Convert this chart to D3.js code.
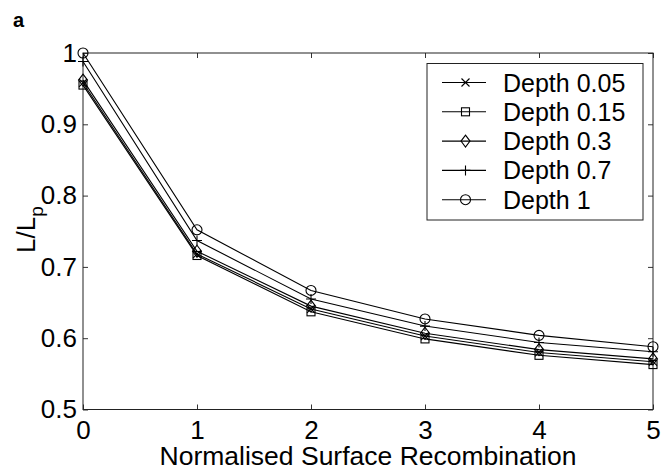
<!DOCTYPE html>
<html>
<head>
<meta charset="utf-8">
<script src="https://cdn.jsdelivr.net/npm/d3@7"></script>
<style>
  body { margin: 0; background: #fff; }
  svg { font-family: "Liberation Sans", Arial, sans-serif; }
</style>
</head>
<body>
<script>
const w = 667, h = 470

// data
const xValues = [0, 1, 2, 3, 4, 5]
const seriesNames = ['Depth 0.05', 'Depth 0.15', 'Depth 0.3', 'Depth 0.7', 'Depth 1']
const markers = ['x', 'square', 'diamond', 'plus', 'circle']
const depth005 = [0.958, 0.718, 0.641, 0.603, 0.580, 0.567]
const depth015 = [0.955, 0.716, 0.637, 0.599, 0.576, 0.563]
const depth03 = [0.962, 0.722, 0.645, 0.607, 0.584, 0.571]
const depth07 = [0.988, 0.737, 0.655, 0.617, 0.594, 0.581]
const depth1 = [1.0, 0.752, 0.667, 0.627, 0.604, 0.588]
const xTicks = [0, 1, 2, 3, 4, 5]
const yTicks = [0.5, 0.6, 0.7, 0.8, 0.9, 1]

const series = [depth005, depth015, depth03, depth07, depth1]

const svg = d3.select('body')
    .append('svg')
    .attr('width', w)
    .attr('height', h)

const pLeft = 83, pRight = 653, pTop = 53, pBottom = 409.5

const xScale = d3.scaleLinear().domain([0, 5]).range([pLeft, pRight])
const yScale = d3.scaleLinear().domain([0.5, 1]).range([pBottom, pTop])

// inward ticks, MATLAB style
const xAxis = d3.axisBottom(xScale).tickValues(xTicks).tickSize(-5).tickPadding(11).tickFormat(d3.format('d'))
const yAxis = d3.axisLeft(yScale).tickValues(yTicks).tickSize(-5).tickPadding(6).tickFormat(d => d === 1 ? '1' : d3.format('.1f')(d))
const xTop = d3.axisTop(xScale).tickValues(xTicks).tickSize(-5).tickFormat('')
const yRight = d3.axisRight(yScale).tickValues(yTicks).tickSize(-5).tickFormat('')

function styleAxis(g) {
    g.select('.domain').remove()
    g.selectAll('line').attr('stroke', '#333')
    g.selectAll('text').attr('fill', '#000').style('font-size', '26px')
}

svg.append('g').attr('transform', `translate(0,${pBottom})`).call(xAxis).call(styleAxis)
svg.append('g').attr('transform', `translate(${pLeft},0)`).call(yAxis).call(styleAxis)
svg.append('g').attr('transform', `translate(0,${pTop})`).call(xTop).call(styleAxis)
svg.append('g').attr('transform', `translate(${pRight},0)`).call(yRight).call(styleAxis)

svg.append('rect')
    .attr('x', pLeft).attr('y', pTop)
    .attr('width', pRight - pLeft).attr('height', pBottom - pTop)
    .attr('fill', 'none').attr('stroke', '#222').attr('stroke-width', 1)

// series lines
const line = d3.line().x((d, i) => xScale(xValues[i])).y(d => yScale(d))

function drawMarker(g, type, cx, cy) {
    const s = 4
    if (type === 'x') {
        g.append('path').attr('d', `M${cx - s},${cy - s}L${cx + s},${cy + s}M${cx - s},${cy + s}L${cx + s},${cy - s}`)
    } else if (type === 'square') {
        g.append('rect').attr('x', cx - s).attr('y', cy - s).attr('width', 2 * s).attr('height', 2 * s)
    } else if (type === 'diamond') {
        g.append('path').attr('d', `M${cx},${cy - 6}L${cx + 4.5},${cy}L${cx},${cy + 6}L${cx - 4.5},${cy}Z`)
    } else if (type === 'plus') {
        g.append('path').attr('d', `M${cx - 5},${cy}L${cx + 5},${cy}M${cx},${cy - 5}L${cx},${cy + 5}`)
    } else {
        g.append('circle').attr('cx', cx).attr('cy', cy).attr('r', 5)
    }
}

series.forEach((vals, k) => {
    svg.append('path')
        .datum(vals)
        .attr('d', line)
        .attr('fill', 'none')
        .attr('stroke', '#000')
        .attr('stroke-width', 1.1)
    const mg = svg.append('g').attr('fill', 'none').attr('stroke', '#000').attr('stroke-width', 1.1)
    vals.forEach((v, i) => drawMarker(mg, markers[k], xScale(xValues[i]), yScale(v)))
})

// legend
const lx = 427, ly = 63.5, lw = 216, lh = 156.5
svg.append('rect')
    .attr('x', lx).attr('y', ly).attr('width', lw).attr('height', lh)
    .attr('fill', '#fff').attr('stroke', '#222').attr('stroke-width', 1)

seriesNames.forEach((name, i) => {
    const yy = ly + 19 + i * 29.3
    const g = svg.append('g').attr('fill', 'none').attr('stroke', '#000').attr('stroke-width', 1.1)
    g.append('line').attr('x1', lx + 15).attr('x2', lx + 59).attr('y1', yy).attr('y2', yy)
    drawMarker(g, markers[i], lx + 38.5, yy)
    svg.append('text')
        .attr('x', lx + 76)
        .attr('y', yy + 9)
        .style('font-size', '25px')
        .text(name)
})

// axis labels
svg.append('text')
    .attr('x', (pLeft + pRight) / 2)
    .attr('y', 465)
    .attr('text-anchor', 'middle')
    .style('font-size', '26.5px')
    .text('Normalised Surface Recombination')

const yl = svg.append('text')
    .attr('transform', 'translate(35,253) rotate(-90)')
    .style('font-size', '26px')
yl.append('tspan').text('L/L')
yl.append('tspan').attr('dy', 8).style('font-size', '19px').text('p')

svg.append('text')
    .attr('x', 13)
    .attr('y', 27)
    .style('font-size', '20px')
    .style('font-weight', 'bold')
    .text('a')
</script>
</body>
</html>
